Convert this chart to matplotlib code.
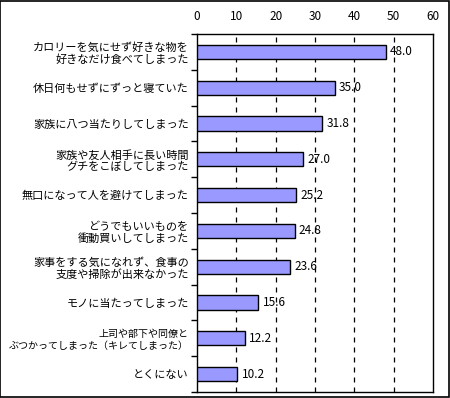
import matplotlib
matplotlib.use("Agg")
import matplotlib.pyplot as plt
from matplotlib.patches import Rectangle

plt.rcParams['font.family'] = ['Noto Sans CJK JP', 'DejaVu Sans']

categories = [
    'カロリーを気にせず好きな物を\n好きなだけ食べてしまった',
    '休日何もせずにずっと寝ていた',
    '家族に八つ当たりしてしまった',
    '家族や友人相手に長い時間\nグチをこぼしてしまった',
    '無口になって人を避けてしまった',
    'どうでもいいものを\n衝動買いしてしまった',
    '家事をする気になれず、食事の\n支度や掃除が出来なかった',
    'モノに当たってしまった',
    '上司や部下や同僚と\nぶつかってしまった（キレてしまった）',
    'とくにない',
]
values = [48.0, 35.0, 31.8, 27.0, 25.2, 24.8, 23.6, 15.6, 12.2, 10.2]
xticks = [0, 10, 20, 30, 40, 50, 60]

fig = plt.figure(figsize=(4.5, 3.98), dpi=100)
ax = fig.add_axes([197 / 450, 1 - 392 / 398, 236 / 450, 358 / 398])

n = len(values)
pos = list(range(n))
ax.barh(pos, values, height=0.4, color='#9999ff', edgecolor='black', linewidth=1, zorder=3)
for p, v in zip(pos, values):
    ax.text(v + 1.1, p, f'{v:.1f}', va='center', ha='left', fontsize=8.5, zorder=4)

ax.set_xlim(0, 60)
ax.set_ylim(n - 0.5, -0.5)
ax.xaxis.tick_top()
ax.set_xticks(xticks)
ax.set_xticklabels([str(t) for t in xticks], fontsize=8.5)
ax.tick_params(axis='x', length=0, pad=8)
for t in xticks[1:-1]:
    ax.axvline(t, color='black', linestyle=(0, (4, 4)), linewidth=0.9, zorder=1)

ax.set_yticks(pos)
ax.set_yticklabels(categories, fontsize=8, linespacing=1.15)
ax.get_yticklabels()[8].set_fontsize(7.2)
ax.tick_params(axis='y', length=0, pad=6)
ax.set_yticks([p + 0.5 for p in range(-1, n)], minor=True)
ax.tick_params(axis='y', which='minor', length=4, width=1, direction='out')

for s in ax.spines.values():
    s.set_linewidth(1)
    s.set_color('black')

fig.patches.append(Rectangle((0.001, 0.002), 0.997, 0.996, transform=fig.transFigure,
                             fill=False, edgecolor='black', linewidth=1.2))

fig.savefig('out.png', dpi=100)
